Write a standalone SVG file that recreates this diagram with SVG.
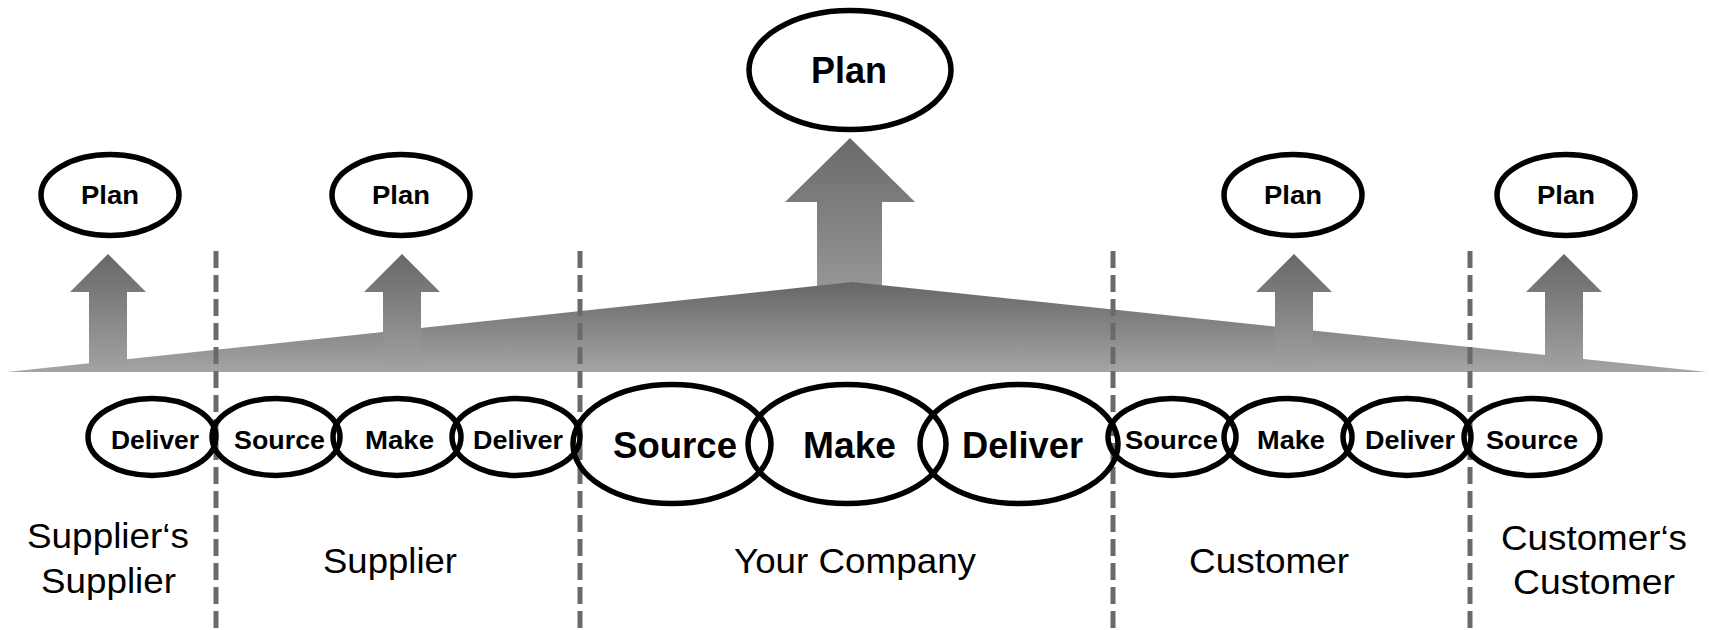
<svg xmlns="http://www.w3.org/2000/svg" width="1709" height="630" viewBox="0 0 1709 630">
<style>
.node{fill:none;stroke:#000;stroke-width:5.5}
.b{font-family:"Liberation Sans",Arial,sans-serif;font-weight:bold;fill:#000;text-anchor:middle}
.r{font-family:"Liberation Sans",Arial,sans-serif;fill:#000;text-anchor:middle;font-size:35px}
.s{font-size:26px}
.l{font-size:36px}
.dash{stroke:#6a6a6a;stroke-width:5;stroke-dasharray:17 7;fill:none}
</style>
<defs>
<linearGradient id="roofG" gradientUnits="userSpaceOnUse" x1="0" y1="282" x2="0" y2="372">
<stop offset="0" stop-color="#666"/><stop offset="1" stop-color="#a5a5a5"/>
</linearGradient>
<linearGradient id="arrG" x1="0" y1="0" x2="0" y2="1">
<stop offset="0" stop-color="#676767"/><stop offset="1" stop-color="#a2a2a2"/>
</linearGradient>
<linearGradient id="bigArrG" x1="0" y1="0" x2="0" y2="1">
<stop offset="0" stop-color="#6a6a6a"/><stop offset="1" stop-color="#969696"/>
</linearGradient>
</defs>

<g id="arrows">
<polygon fill="url(#bigArrG)" points="850,138 915,202 882,202 882,288 817,288 817,202 785,202"/>
<polygon id="roof-left" fill="url(#roofG)" points="7,372 852.5,282 852.5,372"/>
<polygon id="roof-right" fill="url(#roofG)" points="852,282 1707,372 852,372"/>
<polygon fill="url(#arrG)" points="108,254 146,292 127,292 127,372 89,372 89,292 70,292"/>
<polygon fill="url(#arrG)" points="402,254 440,292 421,292 421,372 383,372 383,292 364,292"/>
<polygon fill="url(#arrG)" points="1294,254 1332,292 1313,292 1313,372 1275,372 1275,292 1256,292"/>
<polygon fill="url(#arrG)" points="1564,254 1602,292 1583,292 1583,372 1545,372 1545,292 1526,292"/>
</g>

<g id="dividers">
<line class="dash" x1="216" y1="251" x2="216" y2="630"/>
<line class="dash" x1="580" y1="251" x2="580" y2="630"/>
<line class="dash" x1="1113" y1="251" x2="1113" y2="630"/>
<line class="dash" x1="1470" y1="251" x2="1470" y2="630"/>
</g>

<g id="plan-main"><ellipse class="node" cx="850" cy="70" rx="101" ry="59.5"/><text class="b l" x="849" y="83" textLength="76" lengthAdjust="spacingAndGlyphs">Plan</text></g>
<g id="plan-ss"><ellipse class="node" cx="110" cy="195" rx="69" ry="40.5"/><text class="b s" x="110" y="204" textLength="58" lengthAdjust="spacingAndGlyphs">Plan</text></g>
<g id="plan-s"><ellipse class="node" cx="401" cy="195" rx="69" ry="40.5"/><text class="b s" x="401" y="204" textLength="58" lengthAdjust="spacingAndGlyphs">Plan</text></g>
<g id="plan-c"><ellipse class="node" cx="1293" cy="195" rx="69" ry="40.5"/><text class="b s" x="1293" y="204" textLength="58" lengthAdjust="spacingAndGlyphs">Plan</text></g>
<g id="plan-cc"><ellipse class="node" cx="1566" cy="195" rx="69" ry="40.5"/><text class="b s" x="1566" y="204" textLength="58" lengthAdjust="spacingAndGlyphs">Plan</text></g>

<g id="ss-deliver"><ellipse class="node" cx="152" cy="437" rx="64" ry="38.5"/><text class="b s" x="155" y="449" textLength="88" lengthAdjust="spacingAndGlyphs">Deliver</text></g>
<g id="s-source"><ellipse class="node" cx="276" cy="437" rx="64" ry="38.5"/><text class="b s" x="279.5" y="449" textLength="91" lengthAdjust="spacingAndGlyphs">Source</text></g>
<g id="s-make"><ellipse class="node" cx="397" cy="437" rx="64" ry="38.5"/><text class="b s" x="399.5" y="449" textLength="69" lengthAdjust="spacingAndGlyphs">Make</text></g>
<g id="s-deliver"><ellipse class="node" cx="516" cy="437" rx="64" ry="38.5"/><text class="b s" x="518" y="449" textLength="90" lengthAdjust="spacingAndGlyphs">Deliver</text></g>

<g id="y-source"><ellipse class="node" cx="672" cy="444" rx="99" ry="59.5"/><text class="b l" x="675" y="458" textLength="124" lengthAdjust="spacingAndGlyphs">Source</text></g>
<g id="y-make"><ellipse class="node" cx="847" cy="444" rx="99" ry="59.5"/><text class="b l" x="849.5" y="458" textLength="93" lengthAdjust="spacingAndGlyphs">Make</text></g>
<g id="y-deliver"><ellipse class="node" cx="1019" cy="444" rx="99" ry="59.5"/><text class="b l" x="1022.5" y="458" textLength="121" lengthAdjust="spacingAndGlyphs">Deliver</text></g>

<g id="c-source"><ellipse class="node" cx="1172" cy="437" rx="64" ry="38.5"/><text class="b s" x="1171.5" y="449" textLength="93" lengthAdjust="spacingAndGlyphs">Source</text></g>
<g id="c-make"><ellipse class="node" cx="1288" cy="437" rx="64" ry="38.5"/><text class="b s" x="1291" y="449" textLength="68" lengthAdjust="spacingAndGlyphs">Make</text></g>
<g id="c-deliver"><ellipse class="node" cx="1407" cy="437" rx="64" ry="38.5"/><text class="b s" x="1410" y="449" textLength="90" lengthAdjust="spacingAndGlyphs">Deliver</text></g>
<g id="cc-source"><ellipse class="node" cx="1532" cy="437" rx="68" ry="38.5"/><text class="b s" x="1532" y="449" textLength="92" lengthAdjust="spacingAndGlyphs">Source</text></g>

<g id="labels">
<text class="r" x="108" y="548" textLength="162" lengthAdjust="spacingAndGlyphs">Supplier‘s</text>
<text class="r" x="108.5" y="593" textLength="135" lengthAdjust="spacingAndGlyphs">Supplier</text>
<text class="r" x="390" y="573" textLength="134" lengthAdjust="spacingAndGlyphs">Supplier</text>
<text class="r" x="855" y="573" textLength="242" lengthAdjust="spacingAndGlyphs">Your Company</text>
<text class="r" x="1269" y="573" textLength="160" lengthAdjust="spacingAndGlyphs">Customer</text>
<text class="r" x="1594" y="550" textLength="186" lengthAdjust="spacingAndGlyphs">Customer‘s</text>
<text class="r" x="1594" y="594" textLength="162" lengthAdjust="spacingAndGlyphs">Customer</text>
</g>
</svg>
